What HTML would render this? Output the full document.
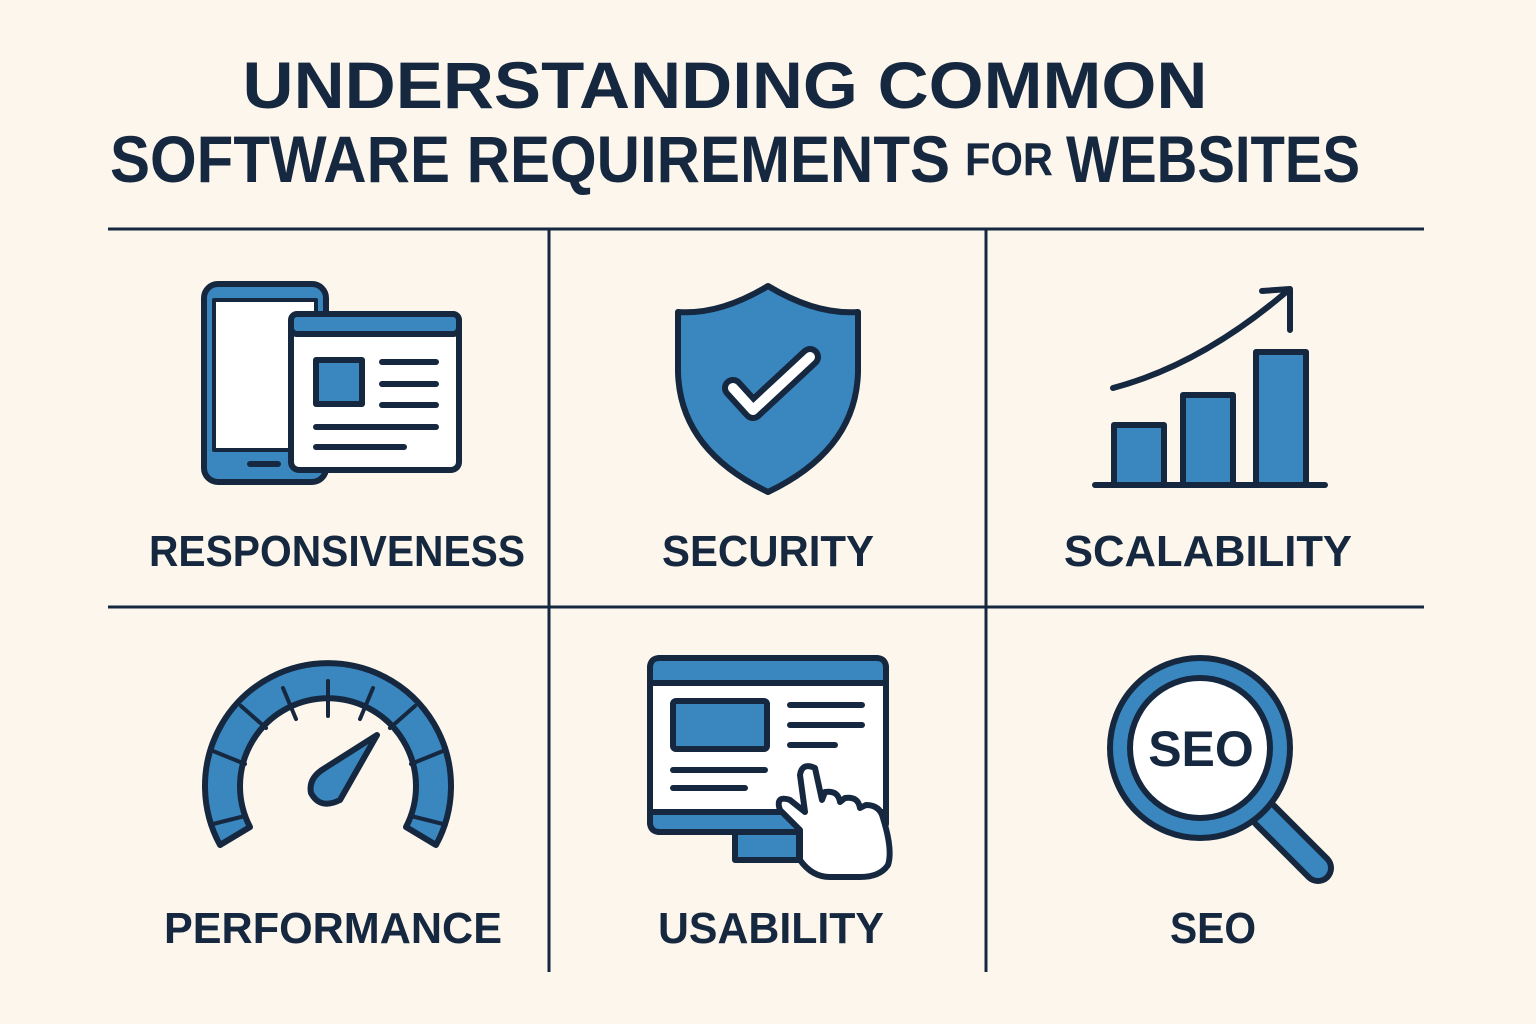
<!DOCTYPE html>
<html><head><meta charset="utf-8"><style>
html,body{margin:0;padding:0;background:#fcf6ec;}
svg{display:block}
text{font-family:"Liberation Sans",sans-serif;font-weight:bold;fill:#15283f}
</style></head><body>
<svg width="1536" height="1024" viewBox="0 0 1536 1024">
<rect width="1536" height="1024" fill="#fcf6ec"/>
<text x="725" y="108" font-size="66" text-anchor="middle" textLength="965" lengthAdjust="spacingAndGlyphs">UNDERSTANDING COMMON</text>
<text x="110" y="182" font-size="66" textLength="840" lengthAdjust="spacingAndGlyphs">SOFTWARE REQUIREMENTS</text>
<text x="965" y="175" font-size="46" textLength="88" lengthAdjust="spacingAndGlyphs">FOR</text>
<text x="1066" y="182" font-size="66" textLength="294" lengthAdjust="spacingAndGlyphs">WEBSITES</text>
<g stroke="#15283f" stroke-width="3">
<line x1="108" y1="229" x2="1424" y2="229"/>
<line x1="108" y1="607" x2="1424" y2="607"/>
<line x1="549" y1="229" x2="549" y2="972"/>
<line x1="986" y1="229" x2="986" y2="972"/>
</g>
<g font-size="44" text-anchor="middle">
<text x="337" y="566" textLength="376" lengthAdjust="spacingAndGlyphs">RESPONSIVENESS</text>
<text x="768" y="566" textLength="212" lengthAdjust="spacingAndGlyphs">SECURITY</text>
<text x="1208" y="566" textLength="288" lengthAdjust="spacingAndGlyphs">SCALABILITY</text>
<text x="333" y="943" textLength="338" lengthAdjust="spacingAndGlyphs">PERFORMANCE</text>
<text x="771" y="943" textLength="226" lengthAdjust="spacingAndGlyphs">USABILITY</text>
<text x="1213" y="943" textLength="86" lengthAdjust="spacingAndGlyphs">SEO</text>
</g>
<g stroke="#15283f" stroke-width="6" stroke-linejoin="round" stroke-linecap="round">
<!-- responsiveness -->
<rect x="204" y="284" width="122" height="198" rx="14" fill="#3a87c0"/>
<rect x="214" y="300" width="102" height="150" fill="#fff" stroke-width="4"/>
<line x1="250" y1="464" x2="278" y2="464"/>
<rect x="291" y="314" width="168" height="156" rx="8" fill="#fff"/>
<rect x="291" y="314" width="168" height="20" rx="6" fill="#3a87c0"/>
<rect x="316" y="360" width="46" height="44" fill="#3a87c0"/>
<line x1="382" y1="362" x2="436" y2="362"/><line x1="382" y1="384" x2="436" y2="384"/><line x1="382" y1="405" x2="436" y2="405"/>
<line x1="316" y1="427" x2="436" y2="427"/><line x1="316" y1="447" x2="404" y2="447"/>
<!-- security -->
<path d="M768 286 Q720 315 678 312 L678 372 Q680 450 768 492 Q856 450 858 372 L858 312 Q816 315 768 286 Z" fill="#3a87c0"/>
<path d="M733 388 L753 410 L810 357" stroke="#15283f" stroke-width="22" fill="none"/>
<path d="M733 388 L753 410 L810 357" stroke="#fff" stroke-width="10" fill="none"/>
<!-- scalability -->
<rect x="1114" y="425" width="50" height="60" fill="#3a87c0"/>
<rect x="1183" y="395" width="50" height="90" fill="#3a87c0"/>
<rect x="1256" y="352" width="50" height="133" fill="#3a87c0"/>
<line x1="1095" y1="485" x2="1325" y2="485"/>
<path d="M1113 388 Q1200 365 1285 293" fill="none"/>
<path d="M1262 291 L1290 289 L1290 330" fill="none"/>
<!-- performance -->
<path d="M220 845 A123 123 0 1 1 436 845 L406 827 A88 88 0 1 0 250 827 Z" fill="#3a87c0"/>
<g stroke-width="4" transform="translate(0,16)">
<line x1="213" y1="808" x2="245" y2="800"/><line x1="213" y1="735" x2="245" y2="748"/><line x1="241" y1="690" x2="266" y2="712"/>
<line x1="283" y1="672" x2="296" y2="703"/><line x1="328" y1="665" x2="328" y2="700"/><line x1="373" y1="672" x2="360" y2="703"/>
<line x1="415" y1="690" x2="390" y2="712"/><line x1="443" y1="735" x2="411" y2="748"/><line x1="443" y1="808" x2="411" y2="800"/>
</g>
<path d="M377 735 L340 800 Q320 810 311 793 Q308 778 325 768 Z" fill="#3a87c0"/>
<!-- usability -->
<rect x="735" y="830" width="64" height="30" fill="#3a87c0"/>
<rect x="650" y="658" width="236" height="174" rx="10" fill="#fff"/>
<path d="M650 683 L650 668 Q650 658 660 658 L876 658 Q886 658 886 668 L886 683 Z" fill="#3a87c0"/>
<path d="M650 812 L886 812 L886 822 Q886 832 876 832 L660 832 Q650 832 650 822 Z" fill="#3a87c0"/>
<rect x="673" y="701" width="94" height="48" rx="3" fill="#3a87c0"/>
<line x1="790" y1="705" x2="862" y2="705"/><line x1="790" y1="725" x2="862" y2="725"/><line x1="790" y1="745" x2="835" y2="745"/>
<line x1="673" y1="770" x2="765" y2="770"/><line x1="673" y1="788" x2="745" y2="788"/>
<path d="M800 830 L780 810 Q775 795 790 800 L805 812 L800 775 Q802 762 815 768 L822 800 L825 792 Q838 790 840 802 L845 798 Q858 796 860 808 L866 805 Q880 805 883 818 Q893 850 888 865 Q880 877 860 877 L830 877 Q812 877 800 860 Z" fill="#fff"/>
<!-- seo -->
<line x1="1265" y1="815" x2="1318" y2="868" stroke-width="32"/>
<line x1="1265" y1="815" x2="1318" y2="868" stroke="#3a87c0" stroke-width="20"/>
<circle cx="1200" cy="748" r="90" fill="#3a87c0"/>
<circle cx="1200" cy="748" r="70" fill="#fff"/>
</g>
<text x="1201" y="766" font-size="50" text-anchor="middle">SEO</text>
</svg>
</body></html>
